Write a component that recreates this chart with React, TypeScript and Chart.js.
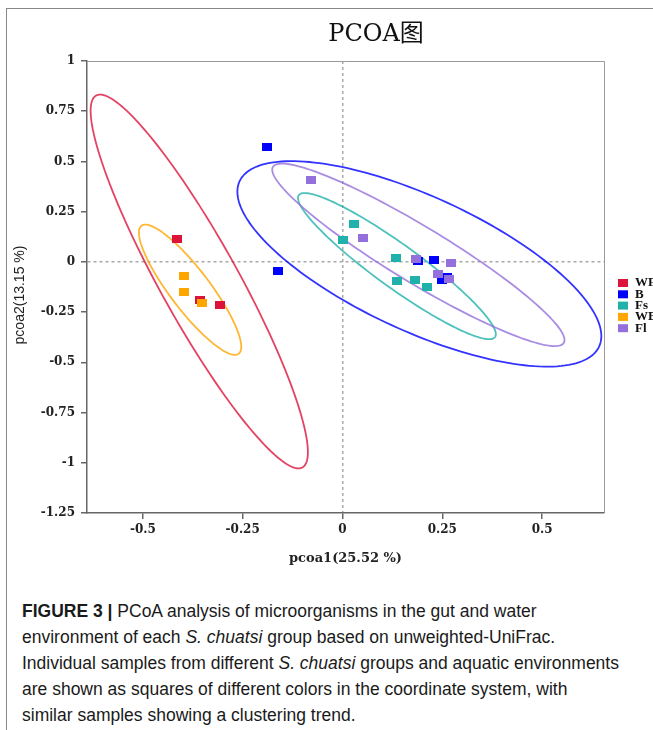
import React, { useEffect, useRef } from "react";
import { Chart, registerables } from "chart.js";

Chart.register(...registerables);

const chartTitle = "PCOA图";
const xAxisTitle = "pcoa1(25.52 %)";
const yAxisTitle = "pcoa2(13.15 %)";

const groupNames = ["WF", "B", "Fs", "WB", "Fl"];
const groupColors = ["#DC143C", "#0000FF", "#20B2AA", "#FFA500", "#9370DB"];

const xTickValues = [-0.5, -0.25, 0, 0.25, 0.5];
const yTickValues = [1, 0.75, 0.5, 0.25, 0, -0.25, -0.5, -0.75, -1, -1.25];

// sample coordinates per group
const wfX = [-0.414, -0.357, -0.306];
const wfY = [0.113, -0.19, -0.217];
const bX = [-0.189, -0.161, 0.19, 0.228, 0.248, 0.261];
const bY = [0.573, -0.047, 0.006, 0.01, -0.09, -0.077];
const fsX = [0.001, 0.028, 0.133, 0.137, 0.181, 0.2125];
const fsY = [0.11, 0.188, 0.017, -0.095, -0.09, -0.127];
const wbX = [-0.3975, -0.3975, -0.3525];
const wbY = [-0.07, -0.152, -0.203];
const flX = [-0.078, 0.051, 0.184, 0.272, 0.238, 0.266];
const flY = [0.41, 0.118, 0.015, -0.007, -0.062, -0.083];

// confidence ellipses (centre + two conjugate semi-axis vectors, data units), order = groups
const ellipseCx = [-0.3588, 0.1925, 0.1363, -0.3818, 0.19];
const ellipseCy = [-0.0975, -0.01, -0.021, -0.1385, 0.035];
const ellipseAx = [0.2585, 0.4505, 0.2458, 0.1218, 0.3643];
const ellipseAy = [-0.9255, -0.4105, -0.353, -0.3185, -0.438];
const ellipseBx = [-0.085, -0.0695, -0.0313, -0.0398, -0.036];
const ellipseBy = [-0.095, -0.305, -0.0875, -0.0605, -0.12];

const serifBold = { family: '"DejaVu Serif", "Liberation Serif", serif', weight: "bold" as const, size: 12 };
const serifBoldTitle = { family: '"DejaVu Serif", "Liberation Serif", serif', weight: "bold" as const, size: 13 };

export default function App() {
  const ref = useRef<HTMLCanvasElement>(null);

  useEffect(() => {
    const canvas = ref.current;
    if (!canvas) return;

    const makeSquare = (color: string) => {
      const c = document.createElement("canvas");
      c.width = 10;
      c.height = 8;
      const g = c.getContext("2d")!;
      g.fillStyle = color;
      g.fillRect(0, 0, 10, 8);
      return c;
    };

    const series = [
      [wfX, wfY],
      [bX, bY],
      [fsX, fsY],
      [wbX, wbY],
      [flX, flY],
    ];

    const datasets = series.map(([xs, ys], i) => ({
      label: groupNames[i],
      data: xs.map((x, j) => ({ x, y: ys[j] })),
      pointStyle: makeSquare(groupColors[i]),
      backgroundColor: groupColors[i],
      borderColor: groupColors[i],
      order: series.length - i,
    }));

    const ellipsePlugin = {
      id: "ellipses",
      beforeDatasetsDraw(chart: any) {
        const { ctx, chartArea, scales } = chart;
        const xs = scales.x;
        const ys = scales.y;
        ctx.save();
        ctx.beginPath();
        ctx.rect(chartArea.left, chartArea.top, chartArea.right - chartArea.left, chartArea.bottom - chartArea.top);
        ctx.clip();
        for (let i = 0; i < ellipseCx.length; i++) {
          ctx.beginPath();
          const N = 180;
          for (let k = 0; k <= N; k++) {
            const t = (2 * Math.PI * k) / N;
            const vx = ellipseCx[i] + ellipseAx[i] * Math.cos(t) + ellipseBx[i] * Math.sin(t);
            const vy = ellipseCy[i] + ellipseAy[i] * Math.cos(t) + ellipseBy[i] * Math.sin(t);
            const px = xs.getPixelForValue(vx);
            const py = ys.getPixelForValue(vy);
            if (k === 0) ctx.moveTo(px, py);
            else ctx.lineTo(px, py);
          }
          ctx.closePath();
          ctx.strokeStyle = groupColors[i];
          ctx.globalAlpha = 0.8;
          ctx.lineWidth = 1.8;
          ctx.stroke();
        }
        ctx.restore();
      },
    };

    const decorPlugin = {
      id: "decor",
      afterDraw(chart: any) {
        const { ctx, chartArea } = chart;
        ctx.save();
        // top and right frame
        ctx.strokeStyle = "#999";
        ctx.lineWidth = 1;
        ctx.beginPath();
        ctx.moveTo(chartArea.left, chartArea.top + 0.5);
        ctx.lineTo(chartArea.right + 0.5, chartArea.top + 0.5);
        ctx.lineTo(chartArea.right + 0.5, chartArea.bottom);
        ctx.stroke();

        // chart title
        ctx.fillStyle = "#111";
        ctx.font = '24px "DejaVu Serif", "Noto Sans CJK SC", serif';
        ctx.textAlign = "center";
        ctx.textBaseline = "middle";
        ctx.fillText(chartTitle, 376, 35);

        // y axis title
        ctx.save();
        ctx.translate(20, 295);
        ctx.rotate(-Math.PI / 2);
        ctx.font = '14px "Liberation Sans", Arial, sans-serif';
        ctx.fillStyle = "#222";
        ctx.fillText(yAxisTitle, 0, 0);
        ctx.restore();

        // legend
        ctx.textAlign = "left";
        ctx.textBaseline = "middle";
        ctx.font = 'bold 13px "Liberation Serif", "DejaVu Serif", serif';
        for (let i = 0; i < groupNames.length; i++) {
          const cy = 283 + i * 11.3;
          ctx.fillStyle = groupColors[i];
          ctx.fillRect(chartArea.right + 14, cy - 4, 10, 8);
          ctx.fillStyle = "#111";
          ctx.fillText(groupNames[i], chartArea.right + 31, cy);
        }
        ctx.restore();
      },
    };

    const gridColor = (c: any) => (c.tick && c.tick.value === 0 ? "#aaaaaa" : "rgba(0,0,0,0)");

    const chart = new Chart(canvas, {
      type: "scatter",
      data: { datasets: datasets as any },
      options: {
        animation: false,
        responsive: false,
        maintainAspectRatio: false,
        layout: { padding: { left: 0, right: 49, top: 61, bottom: 0 } },
        plugins: {
          legend: { display: false },
          tooltip: { enabled: false },
        },
        scales: {
          x: {
            type: "linear",
            min: -0.64,
            max: 0.655,
            afterBuildTicks: (s: any) => {
              s.ticks = xTickValues.map((v) => ({ value: v }));
            },
            afterFit: (s: any) => {
              s.height = 67;
            },
            grid: {
              color: gridColor,
              lineWidth: 1.5,
              drawTicks: true,
              tickLength: 6,
              tickColor: "#666",
              tickWidth: 1.5,
            },
            border: { display: true, color: "#666", width: 1.5, dash: [3, 3] },
            ticks: {
              font: serifBold,
              color: "#222",
              padding: 4,
              maxRotation: 0,
              autoSkip: false,
              callback: (v: any) => String(v),
            },
            title: {
              display: true,
              text: xAxisTitle,
              font: serifBoldTitle,
              color: "#222",
              padding: { top: 0, bottom: 14 },
            },
          },
          y: {
            type: "linear",
            min: -1.25,
            max: 1,
            afterBuildTicks: (s: any) => {
              s.ticks = yTickValues.map((v) => ({ value: v }));
            },
            afterFit: (s: any) => {
              s.width = 87;
            },
            grid: {
              color: gridColor,
              lineWidth: 1.5,
              drawTicks: true,
              tickLength: 6,
              tickColor: "#666",
              tickWidth: 1.5,
            },
            border: { display: true, color: "#666", width: 1.5, dash: [3, 3] },
            ticks: {
              font: serifBold,
              color: "#222",
              padding: 6,
              autoSkip: false,
              callback: (v: any) => String(v),
            },
            title: { display: false },
          },
        },
      },
      plugins: [ellipsePlugin, decorPlugin],
    });

    return () => chart.destroy();
  }, []);

  return (
    <div
      style={{
        position: "absolute",
        left: 0,
        top: 0,
        width: 653,
        height: 730,
        background: "#fff",
        overflow: "hidden",
      }}
    >
      <div
        style={{
          position: "absolute",
          left: 6,
          top: 8,
          width: 700,
          height: 760,
          borderLeft: "1px solid #888",
          borderTop: "1px solid #888",
        }}
      />
      <canvas
        ref={ref}
        width={653}
        height={580}
        style={{ position: "absolute", left: 0, top: 0, width: 653, height: 580 }}
      />
      <div
        style={{
          position: "absolute",
          left: 22,
          top: 598,
          width: 640,
          whiteSpace: "nowrap",
          fontFamily: '"Liberation Sans", Arial, sans-serif',
          fontSize: 17.5,
          lineHeight: "26px",
          color: "#1a1a1a",
        }}
      >
        <b>FIGURE 3 |</b> PCoA analysis of microorganisms in the gut and water
        <br />
        environment of each <i>S. chuatsi</i> group based on unweighted-UniFrac.
        <br />
        Individual samples from different <i>S. chuatsi</i> groups and aquatic environments
        <br />
        are shown as squares of different colors in the coordinate system, with
        <br />
        similar samples showing a clustering trend.
      </div>
    </div>
  );
}
